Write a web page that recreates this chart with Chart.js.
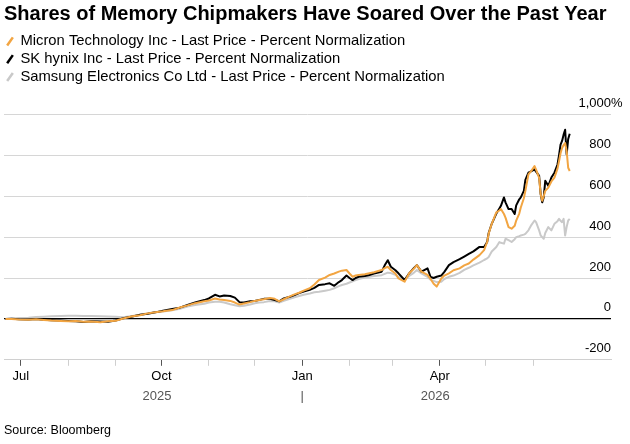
<!DOCTYPE html>
<html>
<head>
<meta charset="utf-8">
<script src="https://cdn.jsdelivr.net/npm/chart.js@4.4.1/dist/chart.umd.min.js"></script>
<style>
  html, body { margin: 0; padding: 0; background: #fff; }
  #wrap { width: 630px; height: 444px; }
</style>
</head>
<body>
<div id="wrap"><canvas id="memoryChart"></canvas></div>
<script>
// Data (percent change since start date)
const startDate = '2025-06-20';
const axisEnd = '2026-07-22';
const dayOffsets = [
  1, 5, 10, 16, 21, 26, 31, 37, 42, 47, 52, 57, 63, 68, 73, 78, 84, 89, 94, 99,
  104, 110, 115, 120, 125, 131, 134, 138, 141, 144, 148, 151, 154, 157, 161, 164, 167, 170, 174, 177,
  180, 183, 187, 190, 193, 196, 200, 203, 206, 210, 213, 216, 219, 221, 224, 226, 228, 230, 232, 236,
  239, 242, 247, 249, 251, 253, 256, 258, 262, 265, 268, 270, 273, 277, 279, 281, 283, 286, 288, 291,
  294, 298, 301, 304, 307, 311, 314, 316, 317, 319, 322, 324, 325, 327, 328, 330, 332, 334, 335, 337,
  338, 340, 341, 343, 345, 347, 348, 350, 351, 352, 353, 354, 356, 358, 360, 362, 363, 364, 365, 366,
  367, 368, 369, 370
];
const micron = [
  0, 0, -3, -4, -2, -5, -8, -10, -12, -10, -14, -13, -16, -12, -9, 2, 13, 18, 27, 33,
  37, 43, 56, 66, 77, 86, 90, 100, 95, 92, 88, 80, 70, 75, 82, 88, 92, 96, 102, 98,
  86, 96, 110, 120, 128, 138, 150, 168, 190, 202, 215, 222, 231, 236, 239, 222, 206, 212, 215, 218,
  223, 228, 239, 248, 255, 239, 222, 198, 182, 223, 245, 263, 231, 215, 195, 172, 158, 198, 212, 223,
  238, 247, 262, 271, 290, 312, 336, 376, 417, 465, 521, 530, 537, 513, 495, 449, 441, 455, 481, 515,
  545, 590, 626, 707, 725, 747, 730, 690, 610, 578, 600, 626, 642, 672, 691, 735, 771, 810, 836, 850,
  860, 820, 739, 723
];
const skHynix = [
  0, 1, -2, -3, 0, -4, -6, -8, -10, -12, -15, -11, -13, -14, -8, 3, 12, 20, 25, 32,
  40, 48, 55, 68, 80, 92, 100, 118, 110, 114, 112, 104, 82, 80, 86, 88, 93, 98, 98, 92,
  86, 100, 108, 116, 126, 134, 142, 152, 166, 170, 174, 162, 180, 190, 212, 200, 190, 200, 206, 210,
  215, 222, 231, 262, 287, 255, 238, 223, 190, 223, 248, 263, 231, 247, 205, 200, 206, 212, 230, 263,
  278, 292, 305, 318, 330, 352, 352, 376, 420, 465, 515, 540, 553, 594, 570, 537, 537, 513, 555, 585,
  594, 626, 680, 715, 723, 731, 720, 699, 610, 570, 594, 675, 651, 691, 715, 755, 800, 852, 870, 901,
  925, 804, 880, 905
];
const samsung = [
  0, 2, 4, 6, 9, 11, 13, 14, 15, 15, 14, 14, 13, 12, 10, 8, 14, 20, 28, 33,
  36, 42, 50, 60, 68, 74, 80, 84, 84, 80, 72, 67, 62, 64, 70, 76, 80, 82, 88, 86,
  80, 88, 98, 106, 112, 118, 124, 130, 133, 138, 142, 150, 160, 166, 172, 178, 184, 190, 195, 202,
  206, 210, 214, 220, 226, 224, 215, 206, 190, 210, 225, 239, 222, 205, 192, 186, 180, 182, 195, 206,
  212, 225, 240, 250, 262, 275, 288, 296, 303, 330, 352, 376, 372, 368, 392, 385, 376, 390, 400, 405,
  408, 412, 416, 433, 460, 481, 473, 433, 408, 400, 392, 420, 449, 433, 465, 478, 489, 480, 473, 489,
  408, 450, 481, 489
];

// Axis ticks
const monthTicks = ['2025-07-01', '2025-08-01', '2025-09-01', '2025-10-01', '2025-11-01', '2025-12-01',
  '2026-01-01', '2026-02-01', '2026-03-01', '2026-04-01', '2026-05-01', '2026-06-01'];
const monthLabels = ['Jul', '', '', 'Oct', '', '', 'Jan', '', '', 'Apr', '', ''];
const yearTicks = ['2025-09-28', '2026-01-01', '2026-03-29'];
const yearLabels = ['2025', '|', '2026'];
const yTickValues = [-200, 0, 200, 400, 600, 800, 1000];
const yTickLabels = ['-200', '0', '200', '400', '600', '800', '1,000'];

const FONT = '"Liberation Sans", Arial, sans-serif';

function dayOf(iso) {
    return (Date.parse(iso) - Date.parse(startDate)) / 86400000;
}

function toPoints(values) {
    return values.map(function(v, i) { return {x: dayOffsets[i], y: v}; });
}

// push the plot area down below the legend
const legendGap = {
    id: 'legendGap',
    beforeInit: function(chart) {
        const fit = chart.legend.fit;
        chart.legend.fit = function() {
            fit.call(this);
            this.height += 20;
        };
    }
};

// "%" hangs to the right of the top y label
const percentSuffix = {
    id: 'percentSuffix',
    afterDraw: function(chart) {
        const y = chart.scales.y;
        const c = chart.ctx;
        c.save();
        c.font = '13px ' + FONT;
        c.fillStyle = '#000';
        c.textAlign = 'left';
        c.textBaseline = 'middle';
        c.fillText('%', y.left, y.getPixelForValue(1000) - 11);
        c.restore();
    }
};

document.addEventListener('DOMContentLoaded', function() {
    const ctx = document.getElementById('memoryChart').getContext('2d');
    const xMin = 0;
    const xMax = dayOf(axisEnd);

    new Chart(ctx, {
        type: 'line',
        data: {
            datasets: [{
                label: 'Micron Technology Inc - Last Price - Percent Normalization',
                data: toPoints(micron),
                borderColor: '#f2a542',
                borderWidth: 2
            }, {
                label: 'SK hynix Inc - Last Price - Percent Normalization',
                data: toPoints(skHynix),
                borderColor: '#000000',
                borderWidth: 2
            }, {
                label: 'Samsung Electronics Co Ltd - Last Price - Percent Normalization',
                data: toPoints(samsung),
                borderColor: '#c9c9c9',
                borderWidth: 2
            }]
        },
        options: {
            responsive: true,
            maintainAspectRatio: false,
            animation: false,
            elements: {
                point: { radius: 0 },
                line: { tension: 0, borderJoinStyle: 'round' }
            },
            layout: { padding: { left: 4, right: 19, top: 0, bottom: 0 } },
            scales: {
                x: {
                    type: 'linear',
                    min: xMin,
                    max: xMax,
                    afterBuildTicks: function(scale) {
                        scale.ticks = monthTicks.map(function(d) { return {value: dayOf(d)}; });
                    },
                    ticks: {
                        autoSkip: false,
                        maxRotation: 0,
                        padding: 3,
                        color: '#000',
                        font: { family: FONT, size: 13 },
                        callback: function(value, index) { return monthLabels[index]; }
                    },
                    grid: {
                        drawOnChartArea: false,
                        drawTicks: true,
                        tickLength: 6,
                        tickColor: function(c) { return monthLabels[c.index] ? '#555' : '#cfcfcf'; }
                    },
                    border: { color: '#d0d0d0' }
                },
                x2: {
                    type: 'linear',
                    position: 'bottom',
                    min: xMin,
                    max: xMax,
                    afterBuildTicks: function(scale) {
                        scale.ticks = yearTicks.map(function(d) { return {value: dayOf(d)}; });
                    },
                    ticks: {
                        autoSkip: false,
                        maxRotation: 0,
                        padding: 1,
                        color: '#555',
                        font: { family: FONT, size: 13 },
                        callback: function(value, index) { return yearLabels[index]; }
                    },
                    grid: { display: false, drawTicks: false },
                    border: { display: false }
                },
                y: {
                    position: 'right',
                    min: -200,
                    max: 1000,
                    afterBuildTicks: function(scale) {
                        scale.ticks = yTickValues.map(function(v) { return {value: v}; });
                    },
                    ticks: {
                        mirror: true,
                        padding: 0,
                        labelOffset: -11,
                        color: '#000',
                        font: { family: FONT, size: 13 },
                        callback: function(value, index) { return yTickLabels[index]; }
                    },
                    grid: {
                        drawTicks: false,
                        color: function(c) { return c.tick && c.tick.value === 0 ? '#000' : '#d6d6d6'; },
                        lineWidth: function(c) { return c.tick && c.tick.value === 0 ? 1.3 : 1; }
                    },
                    border: { display: false }
                }
            },
            plugins: {
                title: {
                    display: true,
                    text: 'Shares of Memory Chipmakers Have Soared Over the Past Year',
                    align: 'start',
                    color: '#000',
                    font: { family: FONT, size: 20, weight: 'bold' },
                    padding: { top: 2, bottom: 5 }
                },
                subtitle: {
                    display: true,
                    position: 'bottom',
                    text: 'Source: Bloomberg',
                    align: 'start',
                    color: '#000',
                    font: { family: FONT, size: 12.5 },
                    padding: { top: 18, bottom: 6 }
                },
                legend: {
                    position: 'top',
                    align: 'start',
                    labels: {
                        usePointStyle: true,
                        boxWidth: 6,
                        boxHeight: 7,
                        padding: 3,
                        color: '#000',
                        font: { family: FONT, size: 14.8 },
                        generateLabels: function(chart) {
                            return chart.data.datasets.map(function(ds, i) {
                                return {
                                    text: ds.label,
                                    strokeStyle: ds.borderColor,
                                    fillStyle: ds.borderColor,
                                    lineWidth: 2.5,
                                    pointStyle: 'line',
                                    rotation: -55,
                                    hidden: false,
                                    datasetIndex: i
                                };
                            });
                        }
                    }
                },
                tooltip: { enabled: false }
            }
        },
        plugins: [legendGap, percentSuffix]
    });
});
</script>
</body>
</html>
